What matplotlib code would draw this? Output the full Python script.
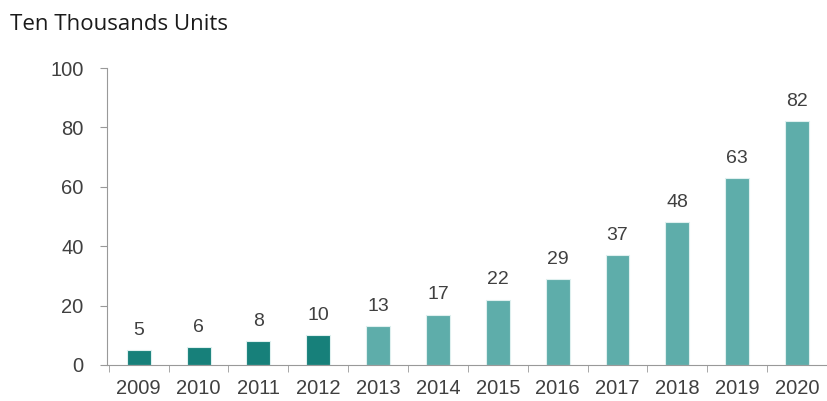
import matplotlib
matplotlib.use('Agg')
import matplotlib.pyplot as plt
import numpy as np

years = ['2009', '2010', '2011', '2012', '2013', '2014', '2015', '2016',
         '2017', '2018', '2019', '2020']
values = [5, 6, 8, 10, 13, 17, 22, 29, 37, 48, 63, 82]
dark_count = 4

dark = '#17807a'
light = '#5eadaa'
colors = [dark if i < dark_count else light for i in range(len(values))]

fig = plt.figure(figsize=(8.27, 4.01), dpi=100)
ax = fig.add_axes([107/827, 36/401, 720/827, 297/401])

x = np.arange(len(values))
ax.bar(x, values, width=0.4, color=colors, edgecolor='#dff0ef', linewidth=0.8)
for xi, v in zip(x, values):
    ax.text(xi, v + 3.8, str(v), ha='center', va='bottom', fontsize=14,
            color='#404040', family='Liberation Sans')

ax.set_xlim(-0.53, 11.35)
ax.set_ylim(0, 100)
ax.set_yticks([0, 20, 40, 60, 80, 100])
ax.set_xticks(x)
ax.set_xticklabels(years)
ax.set_xticks(np.arange(len(values) + 1) - 0.5, minor=True)
ax.tick_params(axis='x', which='major', length=0, pad=10)
ax.tick_params(axis='x', which='minor', length=5, color='#999999', direction='out')
ax.tick_params(axis='y', length=5, color='#999999', pad=12)
for lbl in ax.get_xticklabels() + ax.get_yticklabels():
    lbl.set_fontsize(14.5)
    lbl.set_color('#404040')
    lbl.set_family('Liberation Sans')

for s in ['top', 'right']:
    ax.spines[s].set_visible(False)
ax.spines['left'].set_color('#999999')
ax.spines['bottom'].set_color('#999999')

fig.text(10/827, 1 - 25/401, 'Ten Thousands Units', fontsize=16,
         family='Open Sans', color='#1a1a1a', va='center', ha='left')

fig.savefig('out.png', dpi=100)
